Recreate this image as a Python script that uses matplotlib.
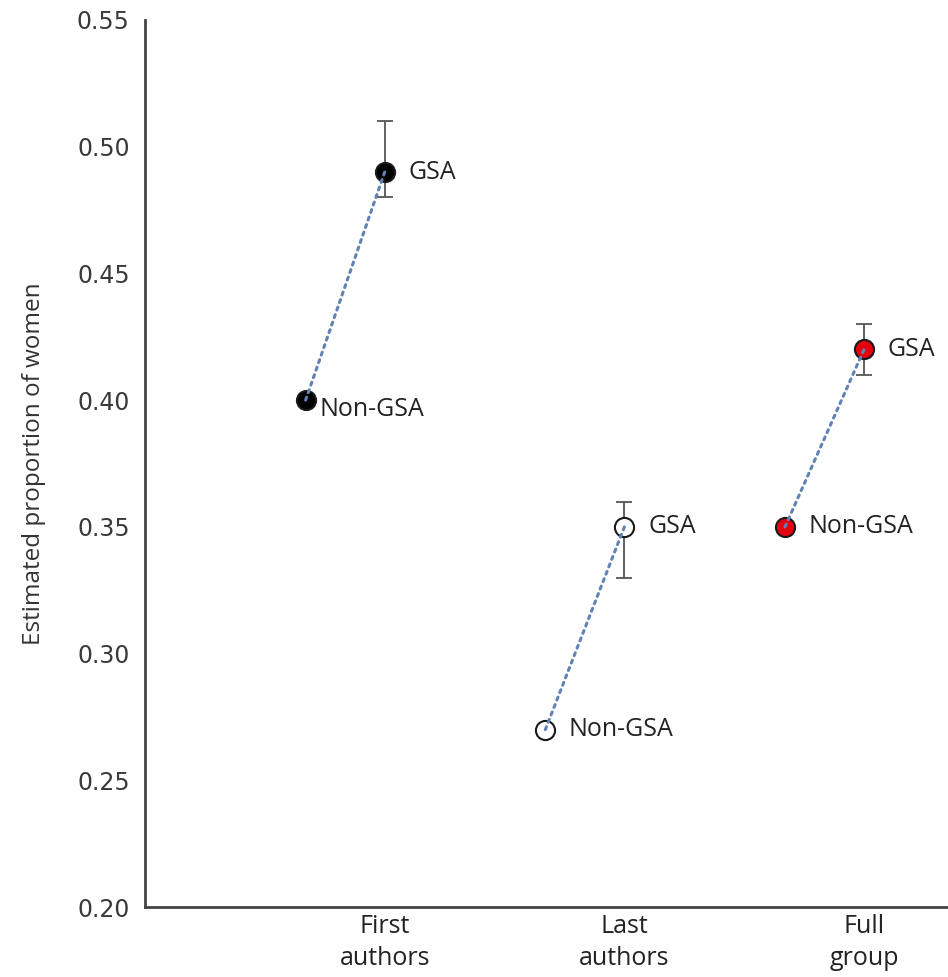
import numpy as np
import matplotlib
matplotlib.use("Agg")
import matplotlib.pyplot as plt

# estimated proportion of women, by author group
groups = ["First\nauthors", "Last\nauthors", "Full\ngroup"]
non_gsa = [0.40, 0.27, 0.35]
gsa = [0.49, 0.35, 0.42]
gsa_lo = [0.48, 0.33, 0.41]
gsa_hi = [0.51, 0.36, 0.43]
face = ["black", "white", "#e3000f"]
yticks = [0.20, 0.25, 0.30, 0.35, 0.40, 0.45, 0.50, 0.55]

plt.rcParams["font.family"] = ["Open Sans", "DejaVu Sans"]

fig = plt.figure(figsize=(9.48, 9.77), dpi=100)
ax = fig.add_axes([0.153, 0.0716, 0.847, 0.908])

xg = np.arange(1, len(groups) + 1)
xn = xg - 0.33

for i in range(len(groups)):
    ax.errorbar(xg[i], gsa[i],
                yerr=[[gsa[i] - gsa_lo[i]], [gsa_hi[i] - gsa[i]]],
                fmt="none", ecolor="#555555", elinewidth=1.3, capsize=6, capthick=1.3, zorder=2)
    ax.plot([xn[i], xg[i]], [non_gsa[i], gsa[i]], ls=(0, (1, 1.6)), lw=2.2,
            color="#6282b4", zorder=4, dash_capstyle="round")
    ax.scatter([xn[i], xg[i]], [non_gsa[i], gsa[i]], s=190, c=face[i],
               edgecolors="#1a1a1a", linewidths=1.5, zorder=3)
    ax.annotate("GSA", (xg[i], gsa[i]), xytext=(17, 0), textcoords="offset points",
                va="center", ha="left", fontsize=18, color="#222222")
    dy = -7 if i == 0 else 0
    dx = 10 if i == 0 else 17
    ax.annotate("Non-GSA", (xn[i], non_gsa[i]), xytext=(dx, dy), textcoords="offset points",
                va="center", ha="left", fontsize=18, color="#222222")

ax.set_xlim(0, 3.35)
ax.set_ylim(0.20, 0.55)
ax.set_yticks(yticks)
ax.set_yticklabels([f"{v:.2f}" for v in yticks], fontsize=17, color="#3a3a3a",
                   family="DejaVu Sans")
ax.set_xticks(xg)
ax.set_xticklabels(groups, fontsize=18, color="#222222", linespacing=1.35)
ax.tick_params(axis="x", length=0, pad=5)
ax.tick_params(axis="y", length=0, pad=11)
ax.set_ylabel("Estimated proportion of women", fontsize=17.5, color="#333333", labelpad=22)

for s in ["top", "right"]:
    ax.spines[s].set_visible(False)
for s in ["left", "bottom"]:
    ax.spines[s].set_color("#444444")
    ax.spines[s].set_linewidth(2)

fig.savefig("out.png", dpi=100)
